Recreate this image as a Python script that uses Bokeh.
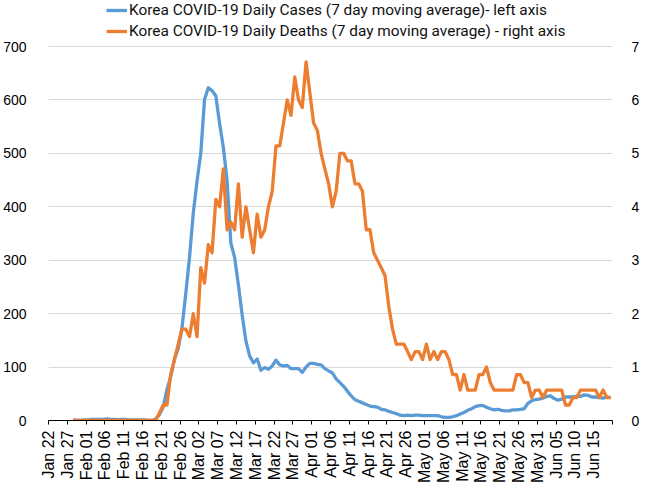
import math
from bokeh.plotting import figure
from bokeh.models import Range1d, LinearAxis, FixedTicker, Legend, LegendItem, ColumnDataSource
from bokeh.embed import file_html
from bokeh.resources import INLINE

# first data point is 6 days after Jan 22 (Jan 28); one value per day up to Jun 19
first_day = 6

tick_labels = ["Jan 22", "Jan 27", "Feb 01", "Feb 06", "Feb 11", "Feb 16", "Feb 21", "Feb 26",
               "Mar 02", "Mar 07", "Mar 12", "Mar 17", "Mar 22", "Mar 27", "Apr 01", "Apr 06",
               "Apr 11", "Apr 16", "Apr 21", "Apr 26", "May 01", "May 06", "May 11", "May 16",
               "May 21", "May 26", "May 31", "Jun 05", "Jun 10", "Jun 15"]

cases = [1, 0, 0, 1, 1, 2, 2, 2, 2, 3, 2, 2, 1, 2, 2, 1, 1, 1, 1, 1, 0, 0, 3,
         11, 25, 58, 82, 115, 135, 173, 237, 305, 388, 448, 500, 601, 623, 617, 608, 556, 511, 449, 332,
         305, 254, 198, 149, 121, 108, 115, 94, 99, 96, 102, 113, 104, 102, 103, 97, 97, 97, 90, 100,
         107, 107, 105, 104, 97, 93, 89, 78, 71, 64, 55, 46, 39, 36, 33, 30, 27, 26, 25, 21, 20,
         17, 15, 13, 10, 9, 10, 9, 10, 10, 9,
         9, 9, 9, 9, 7, 6, 6, 7, 9, 12,
         15, 19, 22, 26, 28, 28, 25, 22, 20, 21,
         19, 18, 18, 20, 20, 21, 22, 32, 37, 39,
         40, 42, 45, 46, 41, 38, 40, 44, 44, 44,
         45, 45, 48, 47, 44, 44, 43, 42, 44, 43]

deaths = [0] * 23 + [
    0.14, 0.29, 0.29, 0.86, 1.14, 1.43, 1.71, 1.71, 1.57, 2.0, 1.57, 2.86, 2.57, 3.29, 3.14, 4.14,
    4.0, 4.71, 3.57, 3.71, 3.57, 4.43, 3.43, 4.0, 3.57, 3.14, 3.86, 3.43,
    3.57, 4.0, 4.29, 5.14, 5.14, 5.57, 6.0, 5.71, 6.43, 6.0, 5.86, 6.71, 6.14, 5.57, 5.43, 5.0,
    4.71, 4.43, 4.0, 4.29, 5.0, 5.0, 4.86, 4.86, 4.43, 4.43, 4.29, 3.57, 3.57, 3.14, 3.0, 2.86, 2.71,
    2.14, 1.71, 1.43, 1.43, 1.43, 1.29, 1.14, 1.29, 1.29, 1.14, 1.43, 1.14, 1.29, 1.14, 1.29, 1.29,
    1.14, 0.86, 0.86, 0.57, 0.86, 0.57, 0.57, 0.57, 0.86, 0.86, 1.0, 0.71,
    0.57, 0.57, 0.57, 0.57, 0.57, 0.57, 0.86, 0.86, 0.71, 0.71, 0.43, 0.57, 0.57, 0.43,
    0.57, 0.57, 0.57, 0.57, 0.57, 0.29, 0.29, 0.43, 0.43, 0.57, 0.57, 0.57, 0.57, 0.57,
    0.43, 0.57, 0.43, 0.43]

n_days = first_day + len(cases)  # axis spans one slot per day
# each day sits in the middle of its one-day slot (date axis "between tick marks")
xs = [first_day + i + 0.5 for i in range(len(cases))]
src = ColumnDataSource(data=dict(x=xs, cases=cases, deaths=deaths))

# frame runs from the top of the figure down to the x axis; the 700 gridline sits 46px below
frame_h = 420
top_gap = 46
y_top = 700 * frame_h / (frame_h - top_gap)

p = figure(width=642, height=490, x_range=Range1d(0, n_days), y_range=Range1d(0, y_top),
           output_backend="svg", toolbar_location=None,
           min_border_left=44, min_border_right=21, min_border_top=0, min_border_bottom=70)
p.outline_line_color = None
p.background_fill_color = "white"
p.border_fill_color = "white"
p.extra_y_ranges = {"deaths": Range1d(0, y_top / 100)}

blue = "#5B9BD5"
orange = "#ED7D31"

r1 = p.line("x", "cases", source=src, line_color=blue, line_width=3.3, line_join="round")
r2 = p.line("x", "deaths", source=src, y_range_name="deaths", line_color=orange, line_width=3.3,
            line_join="round")

# x axis
xa = p.xaxis[0]
tick_pos = [5 * i for i in range(len(tick_labels))] + [n_days]
xa.ticker = FixedTicker(ticks=tick_pos)
overrides = {5 * i: lab for i, lab in enumerate(tick_labels)}
overrides[n_days] = ""
xa.major_label_overrides = overrides
xa.major_label_orientation = math.pi / 2
xa.major_label_text_font = "Liberation Sans"
xa.major_label_text_font_size = "16px"
xa.major_label_text_color = "#000000"
xa.major_label_standoff = 6
xa.axis_line_color = "#000000"
xa.axis_line_width = 1
xa.major_tick_line_color = "#000000"
xa.major_tick_in = 0
xa.major_tick_out = 4
xa.minor_tick_line_color = None

# left axis
ya = p.yaxis[0]
ya.ticker = FixedTicker(ticks=[0, 100, 200, 300, 400, 500, 600, 700])
ya.axis_line_color = None
ya.major_tick_line_color = None
ya.minor_tick_line_color = None
ya.major_label_standoff = 16
ya.major_label_text_font = "Liberation Sans"
ya.major_label_text_font_size = "14px"
ya.major_label_text_color = "#000000"

# right axis
ra = LinearAxis(y_range_name="deaths", ticker=FixedTicker(ticks=[0, 1, 2, 3, 4, 5, 6, 7]))
ra.axis_line_color = None
ra.major_tick_line_color = None
ra.minor_tick_line_color = None
ra.major_label_standoff = 13
ra.major_label_text_font = "Liberation Sans"
ra.major_label_text_font_size = "14px"
ra.major_label_text_color = "#000000"
p.add_layout(ra, "right")

p.xgrid.grid_line_color = None
p.ygrid.ticker = FixedTicker(ticks=[100, 200, 300, 400, 500, 600, 700])
p.ygrid.grid_line_color = "#D9D9D9"
p.ygrid.grid_line_width = 1

legend = Legend(items=[
    LegendItem(label="Korea COVID-19 Daily Cases (7 day moving average)- left axis", renderers=[r1]),
    LegendItem(label="Korea COVID-19 Daily Deaths (7 day moving average) - right axis", renderers=[r2]),
], location=(58, frame_h - 41), orientation="vertical", padding=0, margin=0, spacing=1,
    glyph_width=21, glyph_height=20, label_height=20, label_standoff=2,
    border_line_color=None, background_fill_alpha=0,
    label_text_font="Roboto", label_text_font_size="15.4px", label_text_color="#111111")
p.add_layout(legend)

open("out.html", "w").write(file_html(p, INLINE))
